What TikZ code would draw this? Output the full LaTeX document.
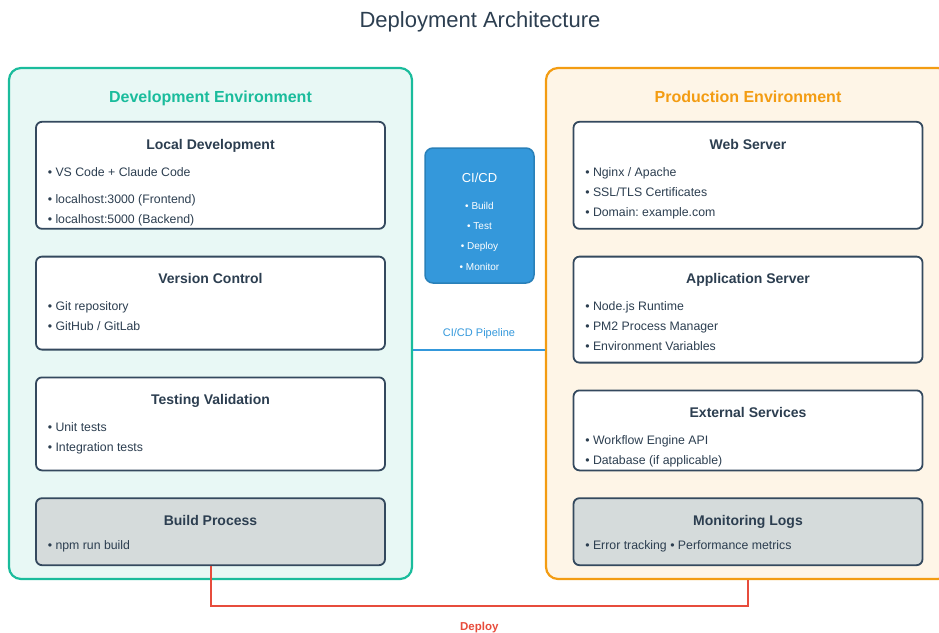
\documentclass[tikz,border=0pt]{standalone}
\usepackage{fontspec}
\setmainfont{Liberation Sans}
\usetikzlibrary{positioning}
\frenchspacing

\definecolor{devgreen}{HTML}{1ABC9C}
\definecolor{devfill}{HTML}{E8F8F5}
\definecolor{prodorange}{HTML}{F39C12}
\definecolor{prodfill}{HTML}{FEF5E7}
\definecolor{cardline}{HTML}{34495E}
\definecolor{inktext}{HTML}{2C3E50}
\definecolor{cardgray}{HTML}{D5DBDB}
\definecolor{ciblue}{HTML}{3498DB}
\definecolor{ciblueline}{HTML}{2980B9}
\definecolor{deployred}{HTML}{E74C3C}

\begin{document}
\begin{tikzpicture}[
        x=1pt, y=-1pt,
        node distance=26pt,
        env/.style={draw, line width=2.2pt, rounded corners=12pt, minimum width=403pt, minimum height=511pt, inner sep=0},
        envhead/.style={font=\fontsize{16}{19}\selectfont\bfseries, inner sep=0, text height=12pt, text depth=3pt},
        card/.style={draw=cardline, line width=1.8pt, rounded corners=6pt, fill=white, minimum width=349pt, inner sep=0},
        cardgrey/.style={card, fill=cardgray},
        cardhead/.style={font=\fontsize{14}{17}\selectfont\bfseries, text=inktext, inner sep=0, text height=10pt, text depth=3pt},
        items/.style={font=\fontsize{12.3}{20}\selectfont, text=inktext, align=left, inner sep=0},
        cibox/.style={draw=ciblueline, fill=ciblue, line width=1.5pt, rounded corners=8pt, minimum width=109pt, minimum height=135pt, inner sep=0},
        cihead/.style={font=\fontsize{13}{16}\selectfont, text=white, inner sep=0, text height=9.5pt, text depth=3pt},
        ciitems/.style={font=\fontsize{10}{20.3}\selectfont, text=white, align=center, inner sep=0},
        pipeline/.style={draw=ciblue, line width=2pt},
        deploy/.style={draw=deployred, line width=2pt},
        tag/.style={inner sep=0, text height=8pt, text depth=2.5pt}
    ]

    \useasboundingbox (0,0) rectangle (939,632);
    \clip (0,0) rectangle (939,632);

    % Title
    \node[font=\fontsize{22}{26}\selectfont, text=inktext, anchor=base] (title) at (480,27) {Deployment Architecture};

    % Environments
    \node[env, draw=devgreen, fill=devfill] (dev) at (210.5,323.5) {};
    \node[env, draw=prodorange, fill=prodfill, minimum width=404pt] (prod) at (748,323.5) {};
    \node[envhead, text=devgreen, below=23pt of dev.north] (devhead) {Development Environment};
    \node[envhead, text=prodorange, below=23pt of prod.north] (prodhead) {Production Environment};

    % Development cards
    \node[card, minimum height=107pt, below=54pt of dev.north] (localdev) {};
    \node[cardhead, below=18pt of localdev.north] {Local Development};
    \node[items, below right=46pt and 12.5pt of localdev.north west] {• VS Code + Claude Code\\[7pt] • localhost:3000 (Frontend)\\ • localhost:5000 (Backend)};

    \node[card, minimum height=93pt, below=of localdev] (vcs) {};
    \node[cardhead, below=18pt of vcs.north] {Version Control};
    \node[items, below right=46pt and 12.5pt of vcs.north west] {• Git repository\\ • GitHub / GitLab};

    \node[card, minimum height=93pt, below=of vcs] (testing) {};
    \node[cardhead, below=18pt of testing.north] {Testing Validation};
    \node[items, below right=46pt and 12.5pt of testing.north west] {• Unit tests\\ • Integration tests};

    \node[cardgrey, minimum height=67pt, below=of testing] (build) {};
    \node[cardhead, below=18pt of build.north] {Build Process};
    \node[items, below right=43pt and 12.5pt of build.north west] {• npm run build};

    % Production cards
    \node[card, minimum height=107pt, below=54pt of prod.north] (web) {};
    \node[cardhead, below=18pt of web.north] {Web Server};
    \node[items, below right=46pt and 12.5pt of web.north west] {• Nginx / Apache\\ • SSL/TLS Certificates\\ • Domain: example.com};

    \node[card, minimum height=106pt, below=of web] (app) {};
    \node[cardhead, below=18pt of app.north] {Application Server};
    \node[items, below right=46pt and 12.5pt of app.north west] {• Node.js Runtime\\ • PM2 Process Manager\\ • Environment Variables};

    \node[card, minimum height=80pt, below=of app] (ext) {};
    \node[cardhead, below=18pt of ext.north] {External Services};
    \node[items, below right=46pt and 12.5pt of ext.north west] {• Workflow Engine API\\ • Database (if applicable)};

    \node[cardgrey, minimum height=67pt, below=of ext] (monitor) {};
    \node[cardhead, below=18pt of monitor.north] {Monitoring Logs};
    \node[items, below right=43pt and 12.5pt of monitor.north west] {• Error tracking • Performance metrics};

    % CI/CD
    \node[cibox] (cicd) at (479.5,215.5) {};
    \node[cihead, below=26pt of cicd.north] (cihead) {CI/CD};
    \node[ciitems, below=15.5pt of cihead] {• Build\\ • Test\\ • Deploy\\ • Monitor};

    % Connections
    \coordinate (pipe) at (479.5,350);
    \draw[pipeline] (pipe -| dev.east) -- node[tag, above=10pt, text=ciblue, font=\fontsize{11}{13}\selectfont] {CI/CD Pipeline} (pipe -| prod.west);
    \draw[deploy] (build.south) -- ++(0,40) -| node[pos=0.25, below=15pt, tag, text=deployred, font=\fontsize{11.5}{13}\selectfont\bfseries] {Deploy} (prod.south);

\end{tikzpicture}
\end{document}
